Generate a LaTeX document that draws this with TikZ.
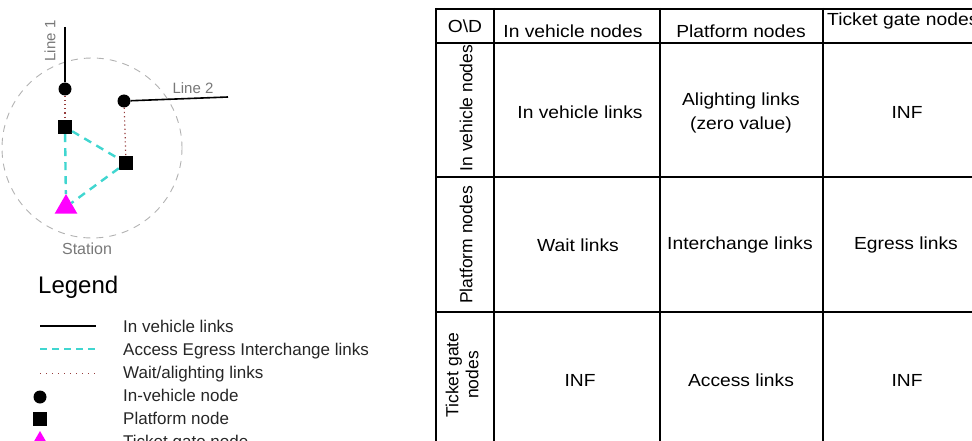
\documentclass[tikz,border=0pt]{standalone}
\usepackage{fontspec}
\setmainfont{Liberation Sans}
\newfontfamily\tabfont[FakeStretch=1.1]{Liberation Sans}
\usetikzlibrary{shapes.geometric}
\definecolor{aecyan}{RGB}{64,214,208}
\definecolor{wared}{RGB}{150,60,60}
\definecolor{lblgray}{RGB}{120,120,120}
\definecolor{tgpink}{RGB}{255,0,255}
\tikzset{
    ivnode/.style={circle, fill=black, inner sep=0pt, minimum size=13pt},
    plnode/.style={rectangle, fill=black, inner sep=0pt, minimum size=14pt},
    tgnode/.style={regular polygon, regular polygon sides=3, fill=tgpink,
                   inner sep=0pt, minimum size=26pt},
    ivlink/.style={line width=1.6pt},
    aelink/.style={aecyan, line width=2.4pt, dash pattern=on 8pt off 6pt},
    walink/.style={wared, line width=1.2pt, dash pattern=on 1.2pt off 3pt},
    lbl/.style={text=lblgray, font=\fontsize{15}{18}\selectfont, inner sep=0pt},
    legtxt/.style={anchor=base west, font=\fontsize{17}{20}\selectfont,
                   text=black!85, inner sep=0pt},
    cell/.style={align=center, font=\tabfont\fontsize{17.5}{21}\selectfont, inner sep=0pt},
    rowlab/.style={align=center, font=\fontsize{17.5}{20}\selectfont, inner sep=0pt, rotate=90},
    gridthick/.style={line width=2.6pt},
    gridthin/.style={line width=1.6pt}}

\begin{document}
\begin{tikzpicture}[x=1pt, y=-1pt]
    \useasboundingbox (0,0) rectangle (972,441);
    \clip (0,0) rectangle (972,441);

    % station
    \draw[black!30, line width=0.9pt, dash pattern=on 7pt off 6pt]
        (92,148) circle[radius=90];
    \node[ivnode] (ivA) at (65,89) {};
    \node[ivnode] (ivB) at (124,101) {};
    \node[plnode] (plA) at (65,127) {};
    \node[plnode] (plB) at (126,163) {};
    \node[tgnode] (tg) at (66,207) {};
    \coordinate (l1end) at (65,27);
    \coordinate (l2end) at (228,97);

    \draw[ivlink] (l1end) -- (ivA);
    \draw[ivlink] (ivB) -- (l2end);
    \draw[walink] (ivA) -- (plA);
    \draw[walink] (ivB) -- (plB);
    \draw[aelink] (plA) -- (plB);
    \draw[aelink] (plA) -- (tg);
    \draw[aelink] (plB) -- (tg);

    \node[lbl, rotate=90] (line1) at (50,41) {Line 1};
    \node[lbl] (line2) at (193,88) {Line 2};
    \node[lbl, font=\fontsize{16}{19}\selectfont] (station) at (87,249) {Station};

    % legend
    \node[anchor=base west, inner sep=0pt, font=\fontsize{24}{28}\selectfont]
        (legtitle) at (38,293) {Legend};
    \draw[ivlink] (40,326) -- (96,326);
    \draw[aelink, dash pattern=on 7pt off 5pt] (40,349) -- (96,349);
    \draw[walink, line width=1pt, dash pattern=on 1pt off 5pt] (40,373) -- (96,373);
    \node[ivnode] (legiv) at (40,397) {};
    \node[plnode] (legpl) at (40,419) {};
    \node[tgnode] (legtg) at (40,444) {};
    \node[legtxt] (t1) at (123,332) {In vehicle links};
    \node[legtxt] (t2) at (123,355) {Access Egress Interchange links};
    \node[legtxt] (t3) at (123,378) {Wait/alighting links};
    \node[legtxt] (t4) at (123,401) {In-vehicle node};
    \node[legtxt] (t5) at (123,424) {Platform node};
    \node[legtxt] (t6) at (123,447) {Ticket gate node};

    % O-D table
    \foreach \y in {9,43,177,312}
        \draw[gridthick] (435,\y) -- (975,\y);
    \foreach \x in {436,494,823}
        \draw[gridthick] (\x,8) -- (\x,445);
    \draw[gridthin] (660,8) -- (660,445);

    \node[cell] (hod) at (465,26) {O\textbackslash D};
    \node[cell] (hiv) at (573,31) {In vehicle nodes};
    \node[cell] (hpl) at (741,31) {Platform nodes};
    \node[cell, anchor=west] (htg) at (827,21) {Ticket gate nodes};

    \node[rowlab] (riv) at (466,108) {In vehicle nodes};
    \node[rowlab] (rpl) at (466,245) {Platform nodes};
    \node[rowlab] (rtg) at (462,375) {Ticket gate\\nodes};

    \node[cell] (ivv) at (580,112) {In vehicle links};
    \node[cell] (ivp) at (741,113) {Alighting links\\[3pt](zero value)};
    \node[cell] (ivt) at (907,112) {INF};
    \node[cell] (plv) at (578,245) {Wait links};
    \node[cell] (plp) at (740,245) {Interchange links};
    \node[cell] (plt) at (906,245) {Egress links};
    \node[cell] (tgv) at (580,380) {INF};
    \node[cell] (tgp) at (741,380) {Access links};
    \node[cell] (tgt) at (907,380) {INF};
\end{tikzpicture}
\end{document}
